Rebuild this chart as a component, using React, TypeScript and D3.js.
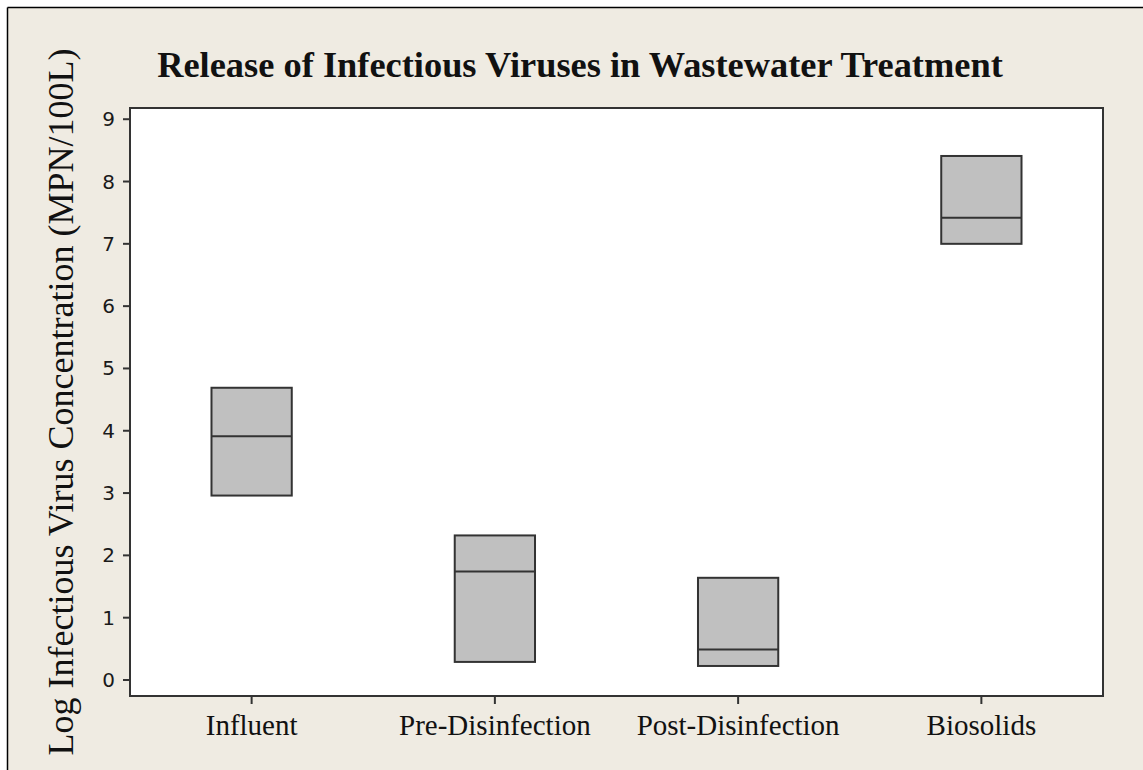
import React from "react";
import * as d3 from "d3";

// box summary (log MPN/100L)
const categories = ["Influent", "Pre-Disinfection", "Post-Disinfection", "Biosolids"];
const q1 = [2.96, 0.29, 0.225, 7.0];
const medians = [3.91, 1.74, 0.49, 7.42];
const q3 = [4.69, 2.32, 1.64, 8.41];
const yTicks = [0, 1, 2, 3, 4, 5, 6, 7, 8, 9];

const W = 1143;
const H = 770;
const plot = { left: 130, right: 1103, top: 108, bottom: 696 };

const x = d3.scaleBand<string>().domain(categories).range([plot.left, plot.right]);
const y = d3.scaleLinear().domain([-0.257, 9.18]).range([plot.bottom, plot.top]);
const boxW = x.bandwidth() * 0.33;

const serif = "'Liberation Serif', 'Times New Roman', serif";
const sans = "'DejaVu Sans', Verdana, sans-serif";
const ink = "#333";

export default function App() {
  return (
    <div style={{ position: "absolute", left: 0, top: 0 }}>
      <svg width={W} height={H} style={{ display: "block" }}>
        <rect x={0} y={0} width={W} height={H} fill="#fff" />
        <rect x={8} y={8} width={W - 8} height={H - 8} fill="#EFEBE2" />
        <line x1={7.5} y1={7.5} x2={W} y2={7.5} stroke="#000" strokeWidth={1.5} />
        <line x1={7.5} y1={7.5} x2={7.5} y2={H} stroke="#000" strokeWidth={1.5} />

        <text x={580} y={77} textAnchor="middle" fontFamily={serif} fontWeight="bold" fontSize={36.4} fill="#111">
          Release of Infectious Viruses in Wastewater Treatment
        </text>

        <rect
          x={plot.left}
          y={plot.top}
          width={plot.right - plot.left}
          height={plot.bottom - plot.top}
          fill="#fff"
          stroke={ink}
          strokeWidth={2}
        />

        {yTicks.map((t) => (
          <g key={t}>
            <line x1={plot.left - 7} x2={plot.left} y1={y(t)} y2={y(t)} stroke={ink} strokeWidth={2} />
            <text
              x={plot.left - 15}
              y={y(t)}
              textAnchor="end"
              dominantBaseline="central"
              fontFamily={sans}
              fontSize={20}
              fill="#1a1a1a"
            >
              {t}
            </text>
          </g>
        ))}

        {categories.map((c, i) => {
          const cx = (x(c) ?? 0) + x.bandwidth() / 2;
          return (
            <g key={c}>
              <line x1={cx} x2={cx} y1={plot.bottom} y2={plot.bottom + 8} stroke={ink} strokeWidth={2} />
              <text x={cx} y={735} textAnchor="middle" fontFamily={serif} fontSize={29} fill="#111">
                {c}
              </text>
              <rect
                x={cx - boxW / 2}
                y={y(q3[i])}
                width={boxW}
                height={y(q1[i]) - y(q3[i])}
                fill="#C0C0C0"
                stroke={ink}
                strokeWidth={2}
              />
              <line
                x1={cx - boxW / 2}
                x2={cx + boxW / 2}
                y1={y(medians[i])}
                y2={y(medians[i])}
                stroke={ink}
                strokeWidth={2}
              />
            </g>
          );
        })}

        <text
          transform={`translate(73,${(plot.top + plot.bottom) / 2}) rotate(-90)`}
          textAnchor="middle"
          fontFamily={serif}
          fontSize={36}
          fill="#111"
        >
          Log Infectious Virus Concentration (MPN/100L)
        </text>
      </svg>
    </div>
  );
}
